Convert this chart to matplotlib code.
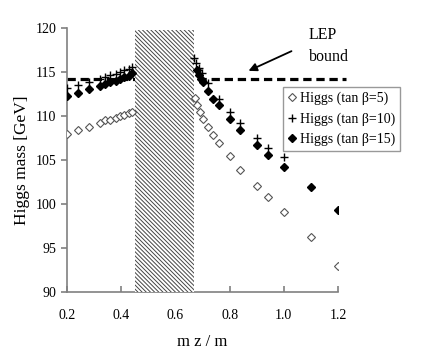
import matplotlib
matplotlib.use("Agg")
import matplotlib.pyplot as plt
from matplotlib.patches import Rectangle

plt.rcParams['font.family'] = ['Liberation Serif', 'DejaVu Serif']
plt.rcParams['hatch.linewidth'] = 0.7

# tan beta = 5 (open diamonds)
x5 = [0.20, 0.24, 0.28, 0.32, 0.34, 0.36, 0.38, 0.395, 0.41, 0.428, 0.44,
      0.672, 0.68, 0.69, 0.70, 0.72, 0.74, 0.76, 0.80, 0.84, 0.90, 0.94, 1.0, 1.1, 1.2]
y5 = [108.0, 108.4, 108.8, 109.2, 109.5, 109.6, 109.8, 110.0, 110.1, 110.3, 110.5,
      112.0, 111.2, 110.4, 109.7, 108.8, 107.8, 106.9, 105.4, 103.9, 102.0, 100.8, 99.1, 96.2, 92.9]

# tan beta = 10 (plus)
x10 = [0.20, 0.24, 0.28, 0.32, 0.34, 0.36, 0.38, 0.395, 0.41, 0.428, 0.44,
       0.67, 0.677, 0.687, 0.697, 0.72, 0.76, 0.80, 0.84, 0.90, 0.94, 1.0]
y10 = [113.2, 113.5, 113.9, 114.2, 114.4, 114.7, 114.8, 115.0, 115.2, 115.3, 115.6,
       116.6, 116.0, 115.4, 114.9, 113.7, 111.9, 110.4, 109.2, 107.5, 106.4, 105.3]

# tan beta = 15 (filled diamonds)
x15 = [0.20, 0.24, 0.28, 0.32, 0.34, 0.36, 0.38, 0.395, 0.41, 0.428, 0.44,
       0.68, 0.687, 0.693, 0.70, 0.72, 0.74, 0.76, 0.80, 0.84, 0.90, 0.94, 1.0, 1.1, 1.2]
y15 = [112.3, 112.6, 113.1, 113.4, 113.6, 113.9, 114.0, 114.2, 114.4, 114.6, 114.9,
       115.2, 114.7, 114.2, 113.9, 112.8, 111.9, 111.2, 109.7, 108.4, 106.7, 105.6, 104.2, 101.9, 99.3]

lep_bound = 114.2
excluded = (0.45, 0.67)
xticks = [0.2, 0.4, 0.6, 0.8, 1.0, 1.2]
xticklabels = ['0.2', '0.4', '0.6', '0.8', '1.0', '1.2']
yticks = [90, 95, 100, 105, 110, 115, 120]

fig = plt.figure(figsize=(4.36, 3.6), dpi=100)
ax = fig.add_axes([67/436, 1-292/360, (338-67)/436, (292-28)/360])
ax.set_xlim(0.2, 1.2)
ax.set_ylim(90, 120)

# LEP bound dashed line
ax.plot([0.2, 1.23], [lep_bound, lep_bound], color='black', lw=2.3,
        dashes=(2.6, 1.5), clip_on=False, zorder=2)

# excluded hatched region
rect = Rectangle((excluded[0], 90), excluded[1]-excluded[0], 29.8, facecolor='white',
                 edgecolor='#444444', hatch='\\\\\\\\\\\\\\\\', linewidth=0, zorder=3)
ax.add_patch(rect)

ax.plot(x5, y5, linestyle='none', marker='D', markersize=3.6, markerfacecolor='white',
        markeredgecolor='#555555', markeredgewidth=0.8, zorder=4, label='Higgs (tan β=5)')
ax.plot(x10, y10, linestyle='none', marker='+', markersize=6, color='black',
        markeredgewidth=1.0, zorder=4, label='Higgs (tan β=10)')
ax.plot(x15, y15, linestyle='none', marker='D', markersize=4.3, color='black',
        zorder=5, label='Higgs (tan β=15)')

ax.set_xticks(xticks)
ax.set_xticklabels(xticklabels)
ax.set_yticks(yticks)
for s in ['top', 'right']:
    ax.spines[s].set_visible(False)
for s in ['left', 'bottom']:
    ax.spines[s].set_color('#808080')
    ax.spines[s].set_linewidth(1.2)
ax.tick_params(axis='x', direction='in', length=4, color='#808080', width=1.2, labelsize=10, pad=12)
ax.tick_params(axis='y', direction='out', length=4, color='#808080', width=1.2, labelsize=10)

ax.set_ylabel('Higgs mass [GeV]', fontsize=12.5, labelpad=4)
ax.set_xlabel('m z / m', fontsize=12, labelpad=9)

leg = fig.legend(loc='upper left', bbox_to_anchor=(283/436, 1-87/360), fontsize=10,
                 frameon=True, fancybox=False, edgecolor='#808080', handlelength=0.6,
                 handletextpad=0.3, borderpad=0.35, labelspacing=0.5, borderaxespad=0)
leg.get_frame().set_linewidth(1.0)

fig.text(309/436, 1-35/360, 'LEP', fontsize=11.5, ha='left', va='center')
fig.text(309/436, 1-57/360, 'bound', fontsize=11.5, ha='left', va='center')
ax.annotate('', xy=(246/436, 1-72/360), xycoords='figure fraction',
            xytext=(294/436, 1-50/360), textcoords='figure fraction',
            arrowprops=dict(arrowstyle='-|>', color='black', lw=1.3, mutation_scale=12))

fig.savefig('out.png', dpi=100)
